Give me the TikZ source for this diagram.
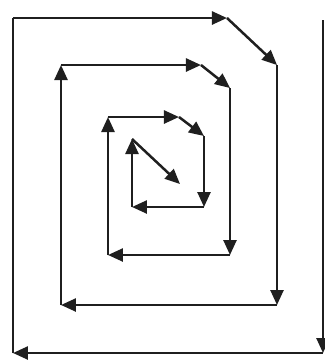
\documentclass[tikz,border=0pt]{standalone}
\usetikzlibrary{arrows.meta}
\begin{document}
\begin{tikzpicture}[x=1pt,y=-1pt,
  seg/.style={line width=2.5pt,draw=black!88,line cap=butt,line join=miter},
  arr/.style={seg,-{Triangle[length=15pt,width=13pt]}}]
\useasboundingbox (0,0) rectangle (325,360);
\coordinate (p0) at (323,20);
\coordinate (p1) at (323,353);
\coordinate (p2) at (13,353);
\coordinate (p3) at (13,18);
\coordinate (p4) at (227,18);
\coordinate (p5) at (277,65);
\coordinate (p6) at (277,305);
\coordinate (p7) at (61,305);
\coordinate (p8) at (61,65);
\coordinate (p9) at (201,65);
\coordinate (p10) at (230,88);
\coordinate (p11) at (230,255);
\coordinate (p12) at (108,255);
\coordinate (p13) at (108,117);
\coordinate (p14) at (179,117);
\coordinate (p15) at (204,136);
\coordinate (p16) at (204,207);
\coordinate (p17) at (132,207);
\coordinate (p18) at (132,139);
\coordinate (p19) at (180,184);
\draw[arr] (p0) -- (p1);
\draw[arr] (p1) -- (p2);
\draw[seg] (p2) -- (p3);
\draw[arr] (p3) -- (p4);
\draw[arr] (p4) -- (p5);
\draw[arr] (p5) -- (p6);
\draw[arr] (p6) -- (p7);
\draw[arr] (p7) -- (p8);
\draw[arr] (p8) -- (p9);
\draw[arr] (p9) -- (p10);
\draw[arr] (p10) -- (p11);
\draw[arr] (p11) -- (p12);
\draw[arr] (p12) -- (p13);
\draw[arr] (p13) -- (p14);
\draw[arr] (p14) -- (p15);
\draw[arr] (p15) -- (p16);
\draw[arr] (p16) -- (p17);
\draw[arr] (p17) -- (p18);
\draw[arr] (p18) -- (p19);
\end{tikzpicture}
\end{document}
